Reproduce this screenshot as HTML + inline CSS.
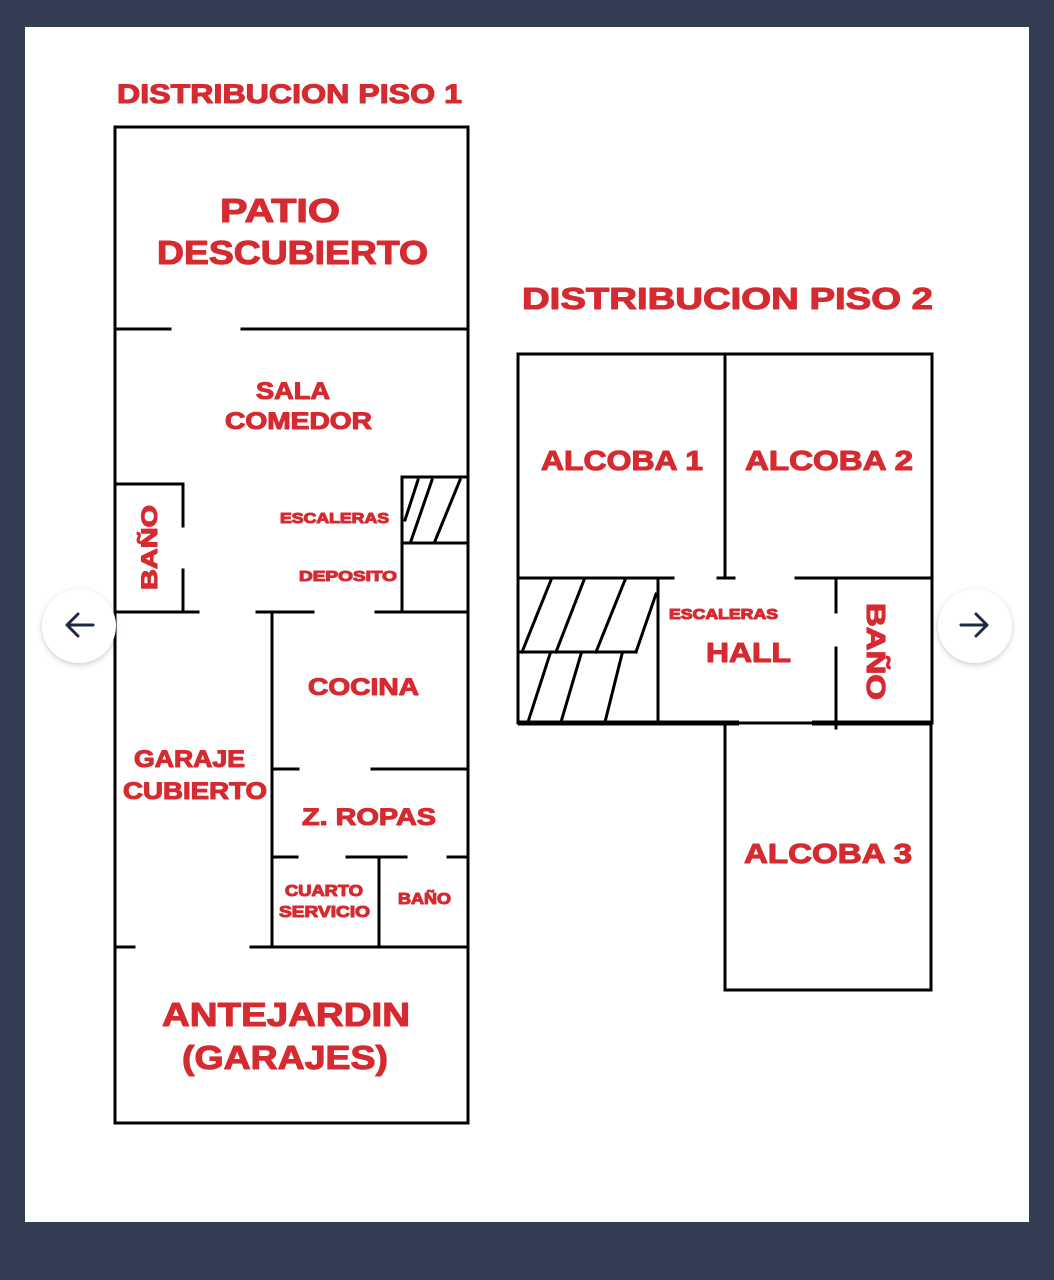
<!DOCTYPE html>
<html><head><meta charset="utf-8"><style>
html,body{margin:0;padding:0;background:#333e52;}
svg{display:block;}
text{font-family:"Liberation Sans",sans-serif;font-weight:bold;fill:#d42a30;stroke:#d42a30;stroke-width:1.1;stroke-linejoin:round;}
</style></head><body>
<svg width="1054" height="1280" viewBox="0 0 1054 1280" xmlns="http://www.w3.org/2000/svg">
<defs><filter id="sh" x="-30%" y="-30%" width="160%" height="160%"><feDropShadow dx="0" dy="2" stdDeviation="3" flood-color="#000" flood-opacity="0.2"/></filter></defs>
<rect x="0" y="0" width="1054" height="1280" fill="#333e52"/>
<rect x="25" y="27" width="1004" height="1195" fill="#fff"/>
<g stroke="#000" stroke-width="3" fill="none" stroke-linecap="square">
<rect x="115" y="127" width="353" height="996"/>
<line x1="115" y1="329" x2="170" y2="329"/><line x1="242" y1="329" x2="468" y2="329"/>
<line x1="115" y1="484" x2="183" y2="484"/>
<line x1="183" y1="484" x2="183" y2="526"/><line x1="183" y1="570" x2="183" y2="612"/>
<line x1="115" y1="612" x2="198" y2="612"/><line x1="257" y1="612" x2="313" y2="612"/><line x1="376" y1="612" x2="468" y2="612"/>
<line x1="402" y1="477" x2="468" y2="477"/><line x1="402" y1="477" x2="402" y2="612"/><line x1="402" y1="543" x2="468" y2="543"/>
<line x1="405" y1="520" x2="418" y2="480"/><line x1="411" y1="541" x2="432" y2="480"/><line x1="435" y1="541" x2="460" y2="480"/>
<line x1="272" y1="612" x2="272" y2="947"/>
<line x1="272" y1="769" x2="298" y2="769"/><line x1="372" y1="769" x2="468" y2="769"/>
<line x1="272" y1="857" x2="297" y2="857"/><line x1="347" y1="857" x2="406" y2="857"/><line x1="448" y1="857" x2="468" y2="857"/>
<line x1="379" y1="857" x2="379" y2="947"/>
<line x1="115" y1="947" x2="134" y2="947"/><line x1="251" y1="947" x2="468" y2="947"/>
<rect x="518" y="354" width="414" height="369"/>
<line x1="725" y1="354" x2="725" y2="578"/>
<line x1="718" y1="578" x2="734" y2="578"/>
<line x1="518" y1="578" x2="673" y2="578"/><line x1="796" y1="578" x2="932" y2="578"/>
<line x1="658" y1="578" x2="658" y2="723"/>
<line x1="518" y1="652" x2="636" y2="652"/><line x1="636" y1="652" x2="656" y2="594"/>
<line x1="522" y1="652" x2="551" y2="580"/><line x1="556" y1="652" x2="584" y2="580"/><line x1="596" y1="652" x2="625" y2="580"/>
<line x1="528" y1="722" x2="550" y2="654"/><line x1="561" y1="722" x2="581" y2="654"/><line x1="605" y1="722" x2="622" y2="654"/>
<line x1="836" y1="580" x2="836" y2="612"/><line x1="836" y1="648" x2="836" y2="728"/>
<line x1="725" y1="723" x2="725" y2="990"/><line x1="725" y1="990" x2="931" y2="990"/><line x1="931" y1="723" x2="931" y2="990"/>
</g>
<g stroke="#000" stroke-width="5">
<line x1="518" y1="723" x2="739" y2="723"/><line x1="812" y1="723" x2="932" y2="723"/>
</g>
<text x="117" y="103" font-size="27" textLength="345" lengthAdjust="spacingAndGlyphs">DISTRIBUCION PISO 1</text>
<text x="220" y="222" font-size="33" textLength="120" lengthAdjust="spacingAndGlyphs">PATIO</text>
<text x="157" y="264" font-size="33" textLength="271" lengthAdjust="spacingAndGlyphs">DESCUBIERTO</text>
<text x="256" y="399" font-size="24" textLength="74" lengthAdjust="spacingAndGlyphs">SALA</text>
<text x="225" y="429" font-size="24" textLength="147" lengthAdjust="spacingAndGlyphs">COMEDOR</text>
<text x="280" y="523" font-size="15" textLength="109" lengthAdjust="spacingAndGlyphs">ESCALERAS</text>
<text x="299" y="581" font-size="15" textLength="98" lengthAdjust="spacingAndGlyphs">DEPOSITO</text>
<text transform="translate(157,590) rotate(-90)" font-size="22" textLength="85" lengthAdjust="spacingAndGlyphs">BAÑO</text>
<text x="308" y="695" font-size="24" textLength="111" lengthAdjust="spacingAndGlyphs">COCINA</text>
<text x="134" y="767" font-size="24" textLength="111" lengthAdjust="spacingAndGlyphs">GARAJE</text>
<text x="123" y="799" font-size="24" textLength="144" lengthAdjust="spacingAndGlyphs">CUBIERTO</text>
<text x="302" y="825" font-size="24" textLength="134" lengthAdjust="spacingAndGlyphs">Z. ROPAS</text>
<text x="285" y="896" font-size="16" textLength="78" lengthAdjust="spacingAndGlyphs">CUARTO</text>
<text x="279" y="917" font-size="16" textLength="91" lengthAdjust="spacingAndGlyphs">SERVICIO</text>
<text x="398" y="904" font-size="16" textLength="53" lengthAdjust="spacingAndGlyphs">BAÑO</text>
<text x="162" y="1026" font-size="33" textLength="248" lengthAdjust="spacingAndGlyphs">ANTEJARDIN</text>
<text x="182" y="1069" font-size="33" textLength="206" lengthAdjust="spacingAndGlyphs">(GARAJES)</text>
<text x="522" y="309" font-size="31" textLength="411" lengthAdjust="spacingAndGlyphs">DISTRIBUCION PISO 2</text>
<text x="541" y="470" font-size="28" textLength="162" lengthAdjust="spacingAndGlyphs">ALCOBA 1</text>
<text x="745" y="470" font-size="28" textLength="168" lengthAdjust="spacingAndGlyphs">ALCOBA 2</text>
<text x="669" y="619" font-size="15" textLength="109" lengthAdjust="spacingAndGlyphs">ESCALERAS</text>
<text x="706" y="662" font-size="28" textLength="85" lengthAdjust="spacingAndGlyphs">HALL</text>
<text transform="translate(867,603) rotate(90)" font-size="26" textLength="97" lengthAdjust="spacingAndGlyphs">BAÑO</text>
<text x="744" y="863" font-size="28" textLength="168" lengthAdjust="spacingAndGlyphs">ALCOBA 3</text>
<circle cx="79" cy="626" r="37" fill="#fff" filter="url(#sh)"/>
<circle cx="975" cy="626" r="37" fill="#fff" filter="url(#sh)"/>
<g stroke="#1e2a44" stroke-width="3" fill="none" stroke-linecap="round" stroke-linejoin="round">
<path d="M93 625 H67 M78 614 L67 625 L78 636"/>
<path d="M961 625 H987 M976 614 L987 625 L976 636"/>
</g>
</svg>
</body></html>
